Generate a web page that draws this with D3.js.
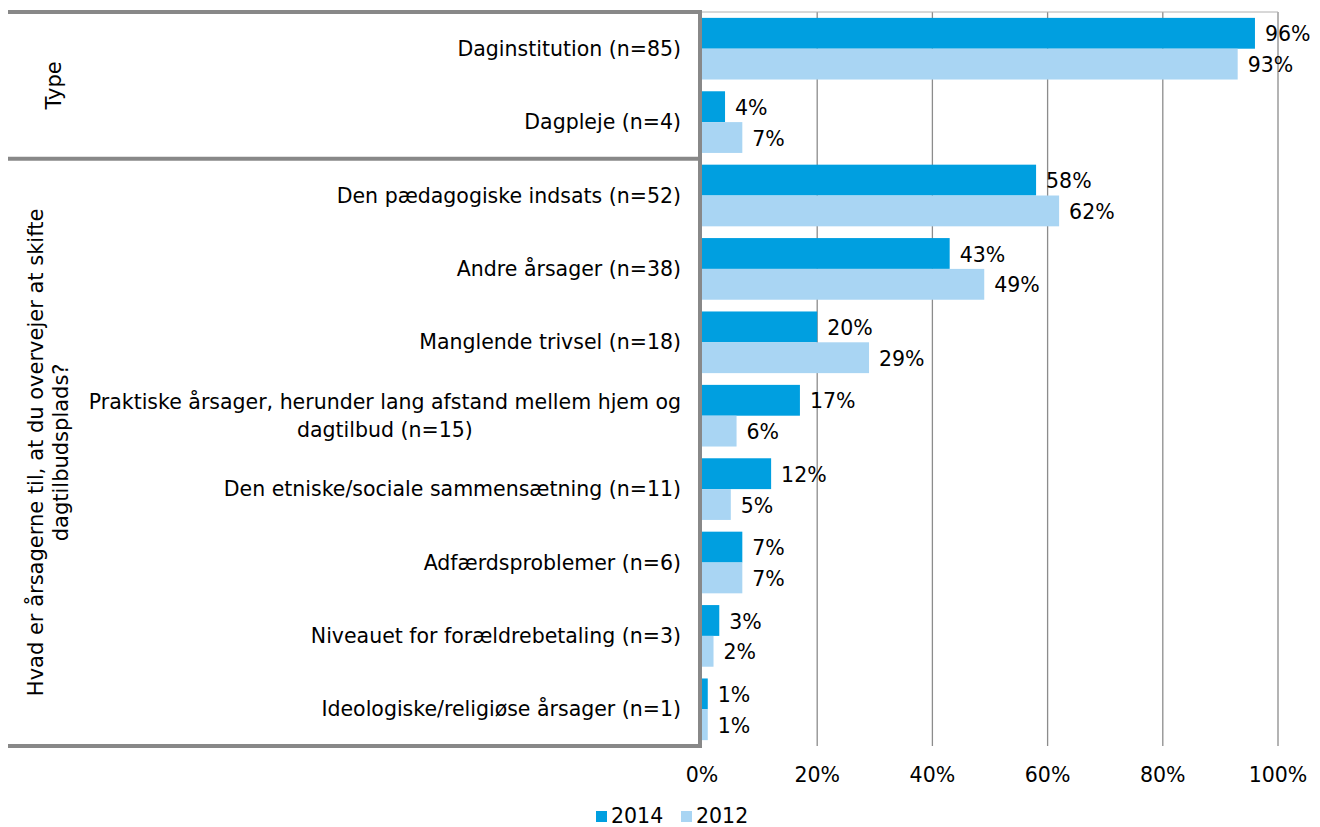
<!DOCTYPE html>
<html>
<head>
<meta charset="utf-8">
<script src="https://d3js.org/d3.v7.min.js"></script>
<style>
  body { margin: 0; background: #fff; }
  text { font-family: "DejaVu Sans", Verdana, sans-serif; fill: #000; }
</style>
</head>
<body>
<svg width="1320" height="827"></svg>
<script>
const categories = [
  "Daginstitution (n=85)",
  "Dagpleje (n=4)",
  "Den pædagogiske indsats (n=52)",
  "Andre årsager (n=38)",
  "Manglende trivsel (n=18)",
  "Praktiske årsager, herunder lang afstand mellem hjem og|dagtilbud (n=15)",
  "Den etniske/sociale sammensætning (n=11)",
  "Adfærdsproblemer (n=6)",
  "Niveauet for forældrebetaling (n=3)",
  "Ideologiske/religiøse årsager (n=1)"
];
const values2014 = [96, 4, 58, 43, 20, 17, 12, 7, 3, 1];
const values2012 = [93, 7, 62, 49, 29, 6, 5, 7, 2, 1];
const seriesNames = ["2014", "2012"];
const groups = [
  { lines: ["Type"], from: 0, to: 1 },
  { lines: ["Hvad er årsagerne til, at du overvejer at skifte", "dagtilbudsplads?"], from: 2, to: 9 }
];
const ticks = [0, 20, 40, 60, 80, 100];
const colors = ["#009fe0", "#a9d5f3"];

const fs = 20.5;
const svg = d3.select("svg");
const plotLeft = 702, plotRight = 1278, plotTop = 12, plotBottom = 746;

const x = d3.scaleLinear().domain([0, 100]).range([plotLeft, plotRight]);
const y = d3.scaleBand().domain(d3.range(categories.length)).range([plotTop, plotBottom])
  .paddingInner(0.16).paddingOuter(0.08);
const inner = d3.scaleBand().domain([0, 1]).range([0, y.bandwidth()]);

// gridlines
svg.append("g").selectAll("line").data(ticks.slice(1)).enter().append("line")
  .attr("x1", d => x(d)).attr("x2", d => x(d))
  .attr("y1", plotTop).attr("y2", plotBottom)
  .attr("stroke", "#8c8c8c").attr("stroke-width", 1.3);
svg.append("line").attr("x1", plotLeft).attr("x2", plotRight).attr("y1", plotTop).attr("y2", plotTop)
  .attr("stroke", "#b0b0b0").attr("stroke-width", 1);

// bars
const data = categories.map((c, i) => ({ i, vals: [values2014[i], values2012[i]] }));
const rows = svg.append("g").selectAll("g").data(data).enter().append("g")
  .attr("transform", d => "translate(0," + y(d.i) + ")");
rows.selectAll("rect").data(d => d.vals.map((v, s) => ({ v, s }))).enter().append("rect")
  .attr("x", x(0))
  .attr("y", d => inner(d.s))
  .attr("width", d => x(d.v) - x(0))
  .attr("height", inner.bandwidth())
  .attr("fill", d => colors[d.s]);
rows.selectAll("text.val").data(d => d.vals.map((v, s) => ({ v, s }))).enter().append("text")
  .attr("class", "val")
  .attr("x", d => x(d.v) + 10)
  .attr("y", d => inner(d.s) + inner.bandwidth() / 2 + 1)
  .attr("dy", "0.35em")
  .attr("font-size", fs)
  .text(d => d.v + "%");

// category labels
const lab = svg.append("g").selectAll("text").data(categories).enter().append("text")
  .attr("text-anchor", "end")
  .attr("font-size", fs)
  .attr("transform", (d, i) => "translate(681," + (y(i) + y.bandwidth() / 2) + ")");
lab.each(function(d) {
  const parts = d.split("|");
  const t = d3.select(this);
  parts.forEach((p, k) => {
    t.append("tspan").attr("x", 0)
      .attr("y", (k - (parts.length - 1) / 2) * 28)
      .attr("dy", "0.35em")
      .attr("text-anchor", k === 0 ? "end" : "middle")
      .text(p);
  });
});
// centre second line of the wrapped label under the first
lab.filter(d => d.includes("|")).each(function() {
  const spans = d3.select(this).selectAll("tspan").nodes();
  const w = spans[0].getComputedTextLength();
  d3.select(spans[1]).attr("x", -w / 2);
});

// frame around group labels
const frame = svg.append("g").attr("stroke", "#888").attr("stroke-width", 4);
const bounds = [plotTop, y(2) - y.step() * y.paddingInner() / 2, plotBottom];
bounds.forEach(b => frame.append("line").attr("x1", 8).attr("x2", plotLeft).attr("y1", b).attr("y2", b));
frame.append("line").attr("x1", plotLeft - 2).attr("x2", plotLeft - 2).attr("y1", plotTop - 2).attr("y2", plotBottom + 2);

// group labels
groups.forEach((g, gi) => {
  const cy = (bounds[gi] + bounds[gi + 1]) / 2;
  const n = g.lines.length;
  const cx = n === 1 ? 54 : 48;
  const t = svg.append("text")
    .attr("transform", "translate(" + cx + "," + cy + ") rotate(-90)")
    .attr("text-anchor", "middle").attr("font-size", 21);
  g.lines.forEach((l, k) => {
    t.append("tspan").attr("x", 0).attr("y", (k - (n - 1) / 2) * 25).attr("dy", "0.35em").text(l);
  });
});

// x axis labels
svg.append("g").selectAll("text").data(ticks).enter().append("text")
  .attr("x", d => x(d)).attr("y", 775).attr("dy", "0.35em")
  .attr("text-anchor", "middle").attr("font-size", fs)
  .text(d => d + "%");

// legend
const leg = svg.append("g").selectAll("g").data(seriesNames).enter().append("g")
  .attr("transform", (d, i) => "translate(" + (596 + i * 85) + ",816)");
leg.append("rect").attr("x", 0).attr("y", -5).attr("width", 11).attr("height", 11)
  .attr("fill", (d, i) => colors[i]);
leg.append("text").attr("x", 15).attr("dy", "0.35em").attr("font-size", fs).text(d => d);
</script>
</body>
</html>
